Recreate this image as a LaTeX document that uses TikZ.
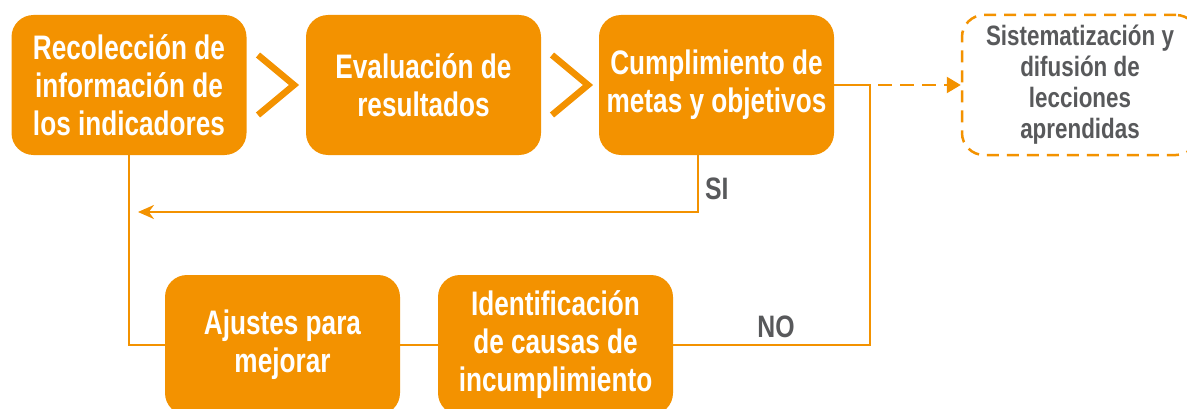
\documentclass[tikz,border=0pt]{standalone}
\usepackage{fontspec}
\setmainfont{Liberation Sans}[FakeStretch=0.77]
\newfontfamily\grayfont{Liberation Sans}[FakeStretch=0.8]
\usetikzlibrary{arrows.meta}
\begin{document}
\begin{tikzpicture}[
    x=1pt,y=1pt,
    font=\bfseries\fontsize{34}{38}\selectfont,
    stepbox/.style={fill=borange,rounded corners=22pt,minimum width=235pt,minimum height=140pt,
      text=white,align=center,inner sep=0pt},
    endbox/.style={draw=borange,dashed,dash pattern=on 12pt off 8pt,line width=2.5pt,rounded corners=22pt,
      minimum width=236pt,minimum height=140pt,text=tgrey,align=center,inner sep=0pt,
      font=\grayfont\bfseries\fontsize{28}{31}\selectfont},
    flow/.style={draw=borange,line width=2.5pt},
    chev/.style={draw=borange,line width=6.5pt,miter limit=10},
    answer/.style={text=tgrey,font=\grayfont\bfseries\fontsize{31}{34}\selectfont,inner sep=0pt}
  ]
    \definecolor{borange}{HTML}{F39200}
    \definecolor{tgrey}{HTML}{58595B}
    \path[use as bounding box] (0,0) rectangle (1187,408);
    % top row
    \node[stepbox] (recol) at (129,323) {Recolección de\\información de\\los indicadores};
    \node[stepbox] (evalu) at (423.5,323) {Evaluación de\\resultados};
    \node[stepbox] (cumpl) at (716.5,323) {Cumplimiento de\\metas y objetivos};
    \node[endbox] (siste) at (1080,323) {Sistematización y\\difusión de\\lecciones\\aprendidas};
    % bottom row
    \node[stepbox] (ajust) at (282.5,63) {Ajustes para\\mejorar};
    \node[stepbox] (ident) at (555.5,63) {Identificación\\de causas de\\incumplimiento};
    % chevrons
    \draw[chev] (258,353) -- (294,323) -- (258,293);
    \draw[chev] (552,353) -- (588,323) -- (552,293);
    % SI branch
    \coordinate (sidown) at (698,196);
    \coordinate (sileft) at (138,196);
    \draw[flow,-{Stealth[length=16pt,width=14pt]}] (cumpl.south -| sidown) -- (sidown) -- (sileft);
    \node[answer,anchor=west] (si) at (705,219) {SI};
    % NO branch
    \coordinate (nocorner) at (870,63);
    \draw[flow] (ident.east) -- (nocorner) |- (cumpl.east);
    \node[answer] (no) at (776,81) {NO};
    % loop back
    \draw[flow] (recol.south) |- (ajust.west);
    \draw[flow] (ajust.east) -- (ident.west);
    % dashed to lessons
    \coordinate (dstart) at (878,323);
    \draw[flow,dashed,dash pattern=on 14pt off 8pt,-{Triangle[length=14pt,width=16pt]}] (dstart) -- (siste.west);
  \end{tikzpicture}
\end{document}
